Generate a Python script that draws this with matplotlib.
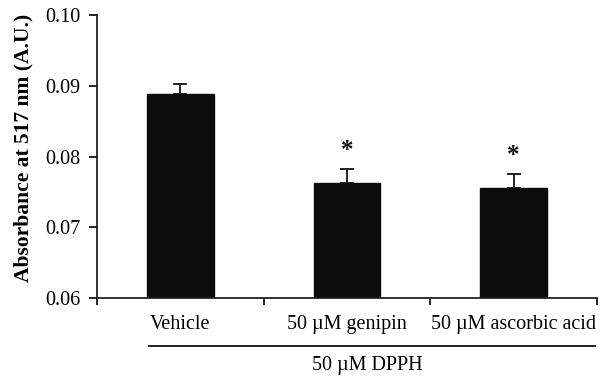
import matplotlib
matplotlib.use("Agg")
import matplotlib.pyplot as plt
from matplotlib.lines import Line2D
import matplotlib.transforms as mtransforms

plt.rcParams['font.family'] = ['Liberation Serif', 'DejaVu Serif']

categories = ["Vehicle", "50 \u00b5M genipin", "50 \u00b5M ascorbic acid"]
values = [0.0888, 0.0763, 0.0755]
errors = [0.0015, 0.0020, 0.0020]
significant = [False, True, True]
yticks = [0.06, 0.07, 0.08, 0.09, 0.10]
ytick_labels = ["0.06", "0.07", "0.08", "0.09", "0.10"]
group_label = "50 \u00b5M DPPH"
ylabel = "Absorbance at 517 nm (A.U.)"

fig = plt.figure(figsize=(6.03, 3.8), dpi=100)
ax = fig.add_axes([97/603, 1-298/380, 500/603, 283/380])

x = list(range(len(categories)))
ax.bar(x, values, width=0.4, color='#0c0c0c', edgecolor='#0c0c0c', zorder=2)
ax.errorbar(x, values, yerr=[[0]*len(errors), errors], fmt='none',
            ecolor='#111111', elinewidth=1.3, capsize=5, capthick=1.3, zorder=3)
for xi, v, e, s in zip(x, values, errors, significant):
    if s:
        ax.text(xi, v + e + 0.0026, "*", ha='center', va='center',
                fontsize=18, fontweight='bold', color='#111111')

ax.set_xlim(-0.5, len(categories) - 0.5)
ax.set_ylim(0.06, 0.10)
ax.set_yticks(yticks)
ax.set_yticklabels(ytick_labels, fontsize=14.5)
ax.set_xticks([i - 0.5 for i in range(len(categories) + 1)])
ax.set_xticklabels([])
ax.set_xticks(x, minor=True)
ax.set_xticklabels(categories, minor=True, fontsize=14.5)
ax.tick_params(axis='x', which='minor', length=0, pad=12)
ax.tick_params(axis='x', which='major', length=5, width=1.2, direction='out')
ax.tick_params(axis='y', which='major', length=6, width=1.2, direction='out', pad=6)
ax.spines['top'].set_visible(False)
ax.spines['right'].set_visible(False)
for sp in ['left', 'bottom']:
    ax.spines[sp].set_linewidth(1.3)
    ax.spines[sp].set_color('#222222')

ax.set_ylabel(ylabel, fontsize=15.5, fontweight='bold')
ax.yaxis.set_label_coords(-0.128, 0.53)

trans = mtransforms.blended_transform_factory(ax.transData, ax.transAxes)
ax.add_line(Line2D([-0.19, 2.49], [-0.170, -0.170], transform=trans,
                   color='#111111', linewidth=1.3, clip_on=False))
ax.text(1.12, -0.237, group_label, transform=trans, ha='center', va='center',
        fontsize=14.5)

fig.savefig("out.png", dpi=100)
